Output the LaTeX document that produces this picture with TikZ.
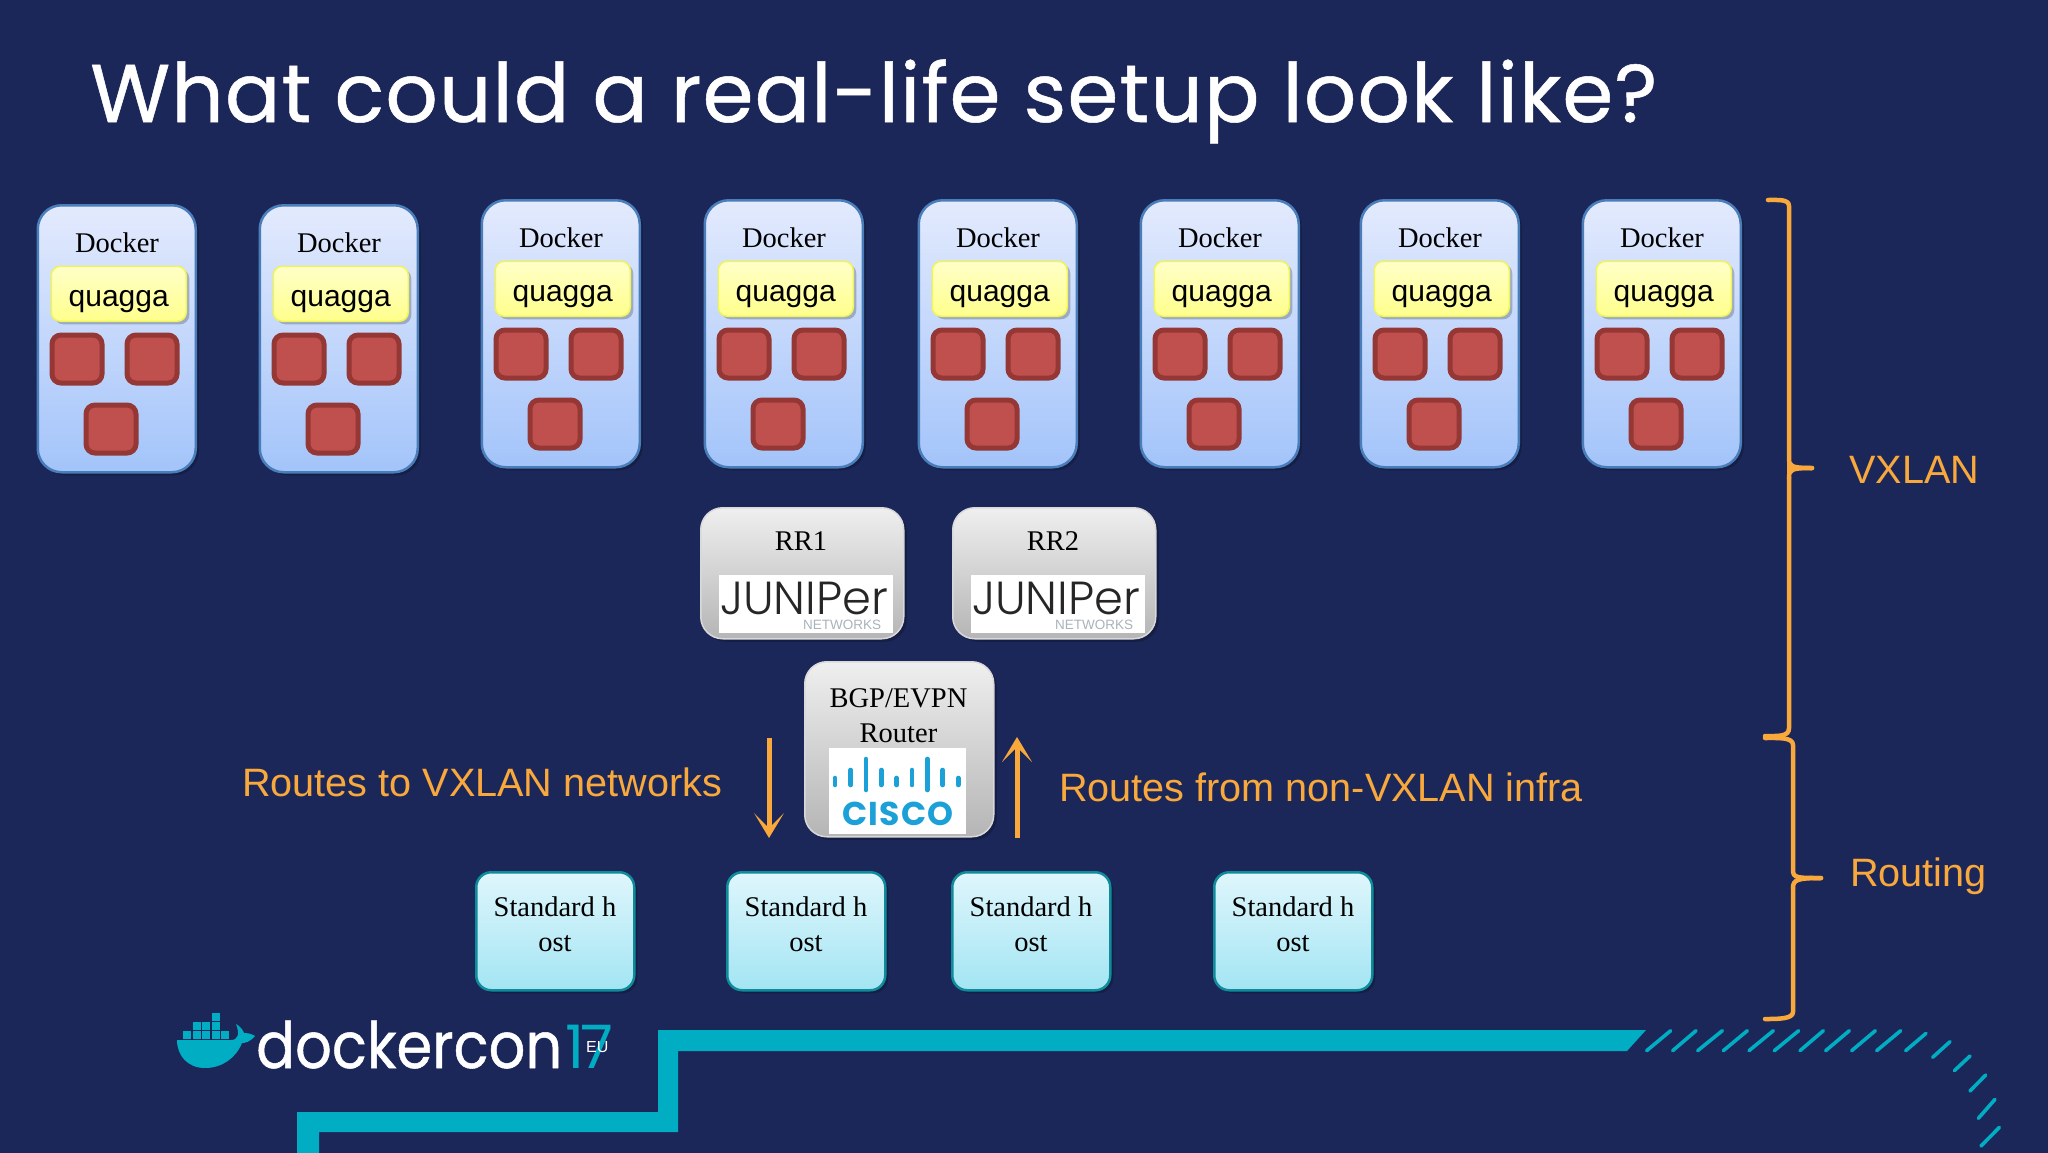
\documentclass[tikz,border=0pt]{standalone}
\usepackage{fontspec}
\usepackage{graphicx}
\setmainfont{Liberation Serif}
\newfontfamily\arialf{Liberation Sans}
\newfontfamily\popf{Poppins}
\newfontfamily\junf{Poppins Light}
\usetikzlibrary{arrows.meta,shadows,calc}
\definecolor{bg}{HTML}{1C2759}
\definecolor{teal}{HTML}{00ADC2}
\definecolor{orng}{HTML}{F9A83C}
\definecolor{ciscob}{HTML}{1BA0D7}
\definecolor{redf}{HTML}{C0504D}
\definecolor{redd}{HTML}{953735}
\definecolor{MyBlueEdge}{HTML}{4A7EBB}
\definecolor{dockTop}{HTML}{E3EAFD}
\definecolor{dockBot}{HTML}{A3C4FA}
\definecolor{yelEdge}{HTML}{EEF45A}
\definecolor{yelTop}{HTML}{FFFFC8}
\definecolor{yelBot}{HTML}{FFFF8C}
\definecolor{grayTop}{HTML}{EFEFEF}
\definecolor{grayBot}{HTML}{B5B5B5}
\definecolor{hostEdge}{HTML}{0F8C9C}
\definecolor{hostTop}{HTML}{DFF6FC}
\definecolor{hostBot}{HTML}{A3E5F3}
\definecolor{netw}{HTML}{A9B3BB}
\tikzset{
  softshadow/.style={drop shadow={shadow xshift=3pt,shadow yshift=-3pt,opacity=.22,fill=black}},
  dockerbox/.style={draw=MyBlueEdge,line width=2.5pt,rounded corners=24pt,top color=dockTop,bottom color=dockBot,minimum width=158pt,minimum height=267pt,inner sep=0pt,anchor=north west,softshadow},
  quaggabox/.style={draw=yelEdge,line width=1.5pt,rounded corners=9pt,top color=yelTop,bottom color=yelBot,minimum width=135pt,minimum height=55pt,inner sep=0pt,anchor=north west,font=\arialf\fontsize{30}{30}\selectfont,text=black,softshadow},
  redbox/.style={draw=redd,line width=5pt,fill=redf,rounded corners=9pt,minimum width=50pt,minimum height=48pt,inner sep=0pt,anchor=north west},
  graybox/.style={draw=white!70!gray,line width=1.5pt,rounded corners=22pt,top color=grayTop,bottom color=grayBot,inner sep=0pt,anchor=north west,softshadow},
  hostbox/.style={draw=hostEdge,line width=2.5pt,rounded corners=15pt,top color=hostTop,bottom color=hostBot,minimum width=158pt,minimum height=118pt,inner sep=0pt,anchor=north west,softshadow},
  serif/.style={font=\fontsize{28.5}{35}\selectfont,text=black,align=center,inner sep=0pt},
  orangetext/.style={font=\arialf\fontsize{39.6}{39.6}\selectfont,text=orng,inner sep=0pt,anchor=base west},
  orangearrow/.style={draw=orng,line width=5pt,-{Stealth[length=25pt,inset=15pt,width=30pt,line width=0pt]}},
  brace/.style={draw=orng,line width=4.5pt,line cap=round,line join=round},
  tealbar/.style={fill=teal,draw=none},
  hatch/.style={draw=teal,line width=3.6pt,line cap=round},
  ciscobar/.style={draw=ciscob,line width=4.6pt,line cap=round},
}
\begin{document}
\begin{tikzpicture}[x=1pt,y=-1pt]
\useasboundingbox (0,0) rectangle (2048,1152);
\fill[bg] (-5,-5) rectangle (2053,1157);

% title
\node[anchor=base west,inner sep=0pt,text=white] (title) at (90,122)
  {\popf\fontsize{82}{82}\selectfont\addfontfeature{LetterSpace=1.4,FakeBold=0.6}What could a real-life setup look like?};

% docker hosts
\foreach \n/\X/\Y in {1/37/205,2/259/205,3/481/200,4/704/200,5/918/200,6/1140/200,7/1360/200,8/1582/200}{
  \node[dockerbox] (dock\n) at (\X-0.5,\Y-1) {};
  \node[serif] (docklabel\n) at (\X+80,\Y+38) {Docker};
  \node[quaggabox] (quagga\n) at (\X+13.5,\Y+60.5) {\raisebox{-13pt}[0pt][0pt]{quagga}};
  \node[redbox] (cona\n) at (\X+12.5,\Y+127.5) {};
  \node[redbox] (conb\n) at (\X+87.5,\Y+127.5) {};
  \node[redbox] (conc\n) at (\X+46.5,\Y+197.5) {};
}

% route reflectors
\foreach \n/\X in {1/700,2/952}{
  \node[graybox,minimum width=203pt,minimum height=131pt] (rr\n) at (\X,507) {};
  \node[serif] (rrlabel\n) at (\X+101,541) {RR\n};
  \node[fill=white,anchor=north west,minimum width=174pt,minimum height=58pt,inner sep=0pt] (jun\n) at (\X+19,575) {};
  \node[anchor=base,inner sep=0pt,text=black!85] (junword\n) at (\X+104,614)
    {\junf\fontsize{47}{47}\selectfont\resizebox{168pt}{!}{JUNIPer}};
  \node[anchor=base,inner sep=0pt,text=netw] (junnet\n) at (\X+142,629)
    {\arialf\fontsize{13.5}{13.5}\selectfont NETWORKS};
}

% router
\node[graybox,minimum width=189pt,minimum height=175pt] (router) at (804,661) {};
\node[serif] (routerlabel) at (898.5,715.5) {BGP/EVPN\\Router};
\node[fill=white,anchor=north west,minimum width=137pt,minimum height=86pt,inner sep=0pt] (cisco) at (829,748) {};
\foreach \x/\t/\b in {835/778/785,850.7/770/785,866/759/790,881.3/770/785,896.7/778/785,912/770/785,927.3/759/790,942.7/770/785,958.3/778/785}{
  \draw[ciscobar] (\x,\t) -- (\x,\b);
}
\node[inner sep=0pt,text=ciscob] (ciscoword) at (898,814)
  {\popf\bfseries\fontsize{33}{33}\selectfont\addfontfeature{LetterSpace=4}CISCO};

% arrows
\coordinate (dA) at (769,738); \coordinate (dB) at (769,838);
\coordinate (uA) at (1017,838); \coordinate (uB) at (1017,737);
\draw[orangearrow] (dA) -- (dB);
\draw[orangearrow] (uA) -- (uB);
\node[orangetext] (leftlab) at (242,796) {Routes to VXLAN networks};
\node[orangetext] (rightlab) at (1059,801) {Routes from non-VXLAN infra};

% standard hosts
\foreach \n/\X in {1/475,2/726,3/951,4/1213}{
  \node[hostbox] (host\n) at (\X,871) {};
  \node[serif] (hostlabel\n) at (\X+80,924) {Standard h\\ost};
}

% braces
\draw[brace] (1768,200) .. controls (1778,200) and (1789,199) .. (1789,206)
  -- (1789,458) .. controls (1789,466) and (1790,468) .. (1812,468);
\draw[brace] (1789,476) -- (1789,458);
\draw[brace] (1789,478) .. controls (1789,470) and (1790,468) .. (1812,468);
\draw[brace] (1789,478) -- (1789,728) .. controls (1789,737) and (1778,736) .. (1765,736);
\draw[brace] (1765,738) .. controls (1778,738) and (1793,737) .. (1793,745)
  -- (1793,870) .. controls (1793,878) and (1797,878) .. (1821,878);
\draw[brace] (1793,888) .. controls (1793,880) and (1797,878) .. (1821,878);
\draw[brace] (1793,888) -- (1793,1012) .. controls (1793,1019) and (1778,1019) .. (1765,1019);
\node[orangetext] (vxlan) at (1849,483) {VXLAN};
\node[orangetext] (routing) at (1850,886) {Routing};

% teal lines
\fill[tealbar] (1646,1030) -- (658,1030) -- (658,1112) -- (297,1112) -- (297,1157) -- (319,1157)
  -- (319,1132) -- (678,1132) -- (678,1051) -- (1627,1051) -- cycle;
\foreach \a/\b/\c/\d in {140/212/212/152,218/212/288/152,293/212/367/152,370/212/442/152,447/212/520/152,523/212/596/152,600/212/670/152,677/212/748/152,755/212/826/152,830/212/902/152,917/212/978/160,998/232/1050/185,1063/272/1110/228,1110/333/1157/285,1135/415/1185/358,1143/498/1198/442}{
  \draw[hatch] ({1600+\a/3},{980+\b/3}) -- ({1600+\c/3},{980+\d/3});
}

% dockercon logo
\fill[teal] (177,1040) -- (231,1040) .. controls (238,1040) and (240,1034) .. (236,1024)
  .. controls (240,1026) and (243,1030) .. (244,1033) .. controls (248,1033) and (252,1034) .. (255,1036)
  .. controls (250,1042) and (245,1043) .. (242,1043) .. controls (236,1058) and (222,1068) .. (205,1068)
  .. controls (188,1068) and (177,1056) .. (177,1040) -- cycle;
\foreach \x/\y in {183/1031,192.5/1031,202/1031,211.5/1031,221/1031,192.5/1022,202/1022,211.5/1022,211.5/1013}{
  \fill[teal] (\x,\y) rectangle ++(8.3,7.6);
}
\node[anchor=base west,inner sep=0pt,text=white] (dockercon) at (256,1068)
  {\popf\fontsize{64}{64}\selectfont\addfontfeature{FakeBold=0.8}\resizebox{306pt}{\height}{dockercon}};
\node[anchor=base west,inner sep=0pt,text=teal] (seventeen) at (565,1068)
  {\popf\fontsize{60}{60}\selectfont\addfontfeature{LetterSpace=-6}17};
\node[anchor=base west,inner sep=0pt,text=white] (eu) at (586,1052)
  {\arialf\fontsize{16}{16}\selectfont EU};
\end{tikzpicture}
\end{document}
